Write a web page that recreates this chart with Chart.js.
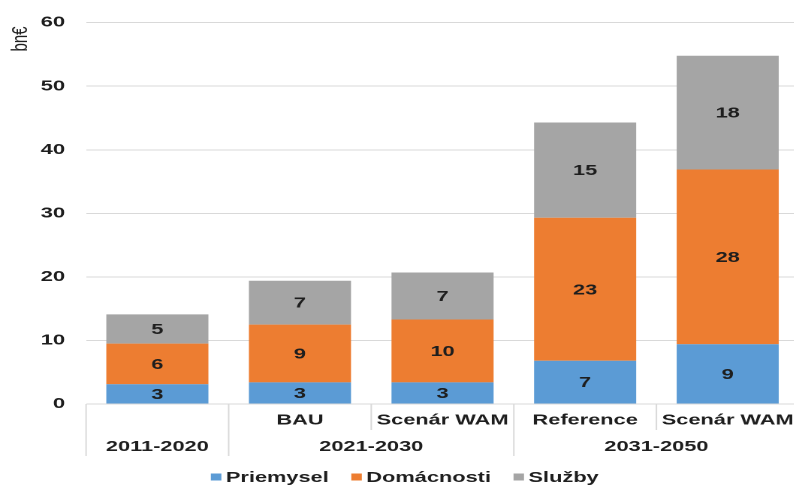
<!DOCTYPE html>
<html>
<head>
<meta charset="utf-8">
<script src="https://cdn.jsdelivr.net/npm/chart.js@4.4.1/dist/chart.umd.min.js"></script>
<style>
html, body { margin: 0; padding: 0; background: #fff; overflow: hidden; }
</style>
</head>
<body>
<!-- the reference is stretched horizontally ~1.5x and cut a little on the right,
     so the canvas is drawn narrow, stretched by CSS and slightly wider than the window -->
<canvas id="chart" width="532" height="485" style="display:block;width:798.6px;height:485px"></canvas>
<script>
const categories = ['', 'BAU', 'Scenár WAM', 'Reference', 'Scenár WAM'];
const groupLabels = ['2011-2020', '2021-2030', '2031-2050'];
const groupSizes = [1, 2, 2];
const seriesNames = ['Priemysel', 'Domácnosti', 'Služby'];
const priemysel = [3.1, 3.4, 3.4, 6.8, 9.4];
const domacnosti = [6.4, 9.1, 9.9, 22.5, 27.5];
const sluzby = [4.6, 6.9, 7.4, 15.0, 17.9];
const yTicks = [0, 10, 20, 30, 40, 50, 60];
const colors = ['#5B9BD5', '#ED7D31', '#A5A5A5'];

const FAMILY = '"Liberation Sans", Arial, sans-serif';
const FONT = 'bold 14.5px ' + FAMILY;
const TEXT = '#1e1e1e';
const LINE = '#D9D9D9';

const decor = {
  id: 'decor',
  afterDatasetsDraw(chart) {
    const { ctx, chartArea, scales: { x } } = chart;
    ctx.save();

    // value labels in the middle of each segment
    ctx.font = FONT;
    ctx.fillStyle = TEXT;
    ctx.textAlign = 'center';
    ctx.textBaseline = 'middle';
    chart.data.datasets.forEach((ds, i) => {
      chart.getDatasetMeta(i).data.forEach((bar, j) => {
        ctx.fillText(String(Math.round(ds.data[j])), bar.x, (bar.y + bar.base) / 2 + 1);
      });
    });

    // category separators, long ones between groups
    const half = (x.getPixelForValue(1) - x.getPixelForValue(0)) / 2;
    const starts = [0];
    groupSizes.forEach(n => starts.push(starts[starts.length - 1] + n));
    ctx.strokeStyle = LINE;
    ctx.lineWidth = 1;
    for (let i = 0; i <= categories.length; i++) {
      const px = i < categories.length ? x.getPixelForValue(i) - half : x.getPixelForValue(i - 1) + half;
      const full = starts.includes(i);
      ctx.beginPath();
      ctx.moveTo(px, chartArea.bottom);
      ctx.lineTo(px, full ? 456 : 430);
      ctx.stroke();
    }

    // group labels
    groupLabels.forEach((g, k) => {
      const a = x.getPixelForValue(starts[k]) - half;
      const b = x.getPixelForValue(starts[k + 1] - 1) + half;
      ctx.fillText(g, (a + b) / 2, 447);
    });

    // unit label
    ctx.save();
    ctx.translate(13.7, 39);
    ctx.rotate(-Math.PI / 2);
    ctx.font = '15px ' + FAMILY;
    ctx.fillText('bn€', 0, 0);
    ctx.restore();

    // legend
    const box = 7, gap = 3, itemGap = 15;
    const widths = seriesNames.map(n => box + gap + ctx.measureText(n).width);
    const total = widths.reduce((s, w) => s + w, 0) + itemGap * (widths.length - 1);
    let lx = 269.5 - total / 2;
    const ly = 477;
    ctx.textAlign = 'left';
    seriesNames.forEach((n, i) => {
      ctx.fillStyle = colors[i];
      ctx.fillRect(lx, ly - 3.5, box, box);
      ctx.fillStyle = TEXT;
      ctx.fillText(n, lx + box + gap, ly + 1);
      lx += widths[i] + itemGap;
    });

    ctx.restore();
  }
};

new Chart(document.getElementById('chart'), {
  type: 'bar',
  data: {
    labels: categories,
    datasets: [
      { label: seriesNames[0], data: priemysel, backgroundColor: colors[0] },
      { label: seriesNames[1], data: domacnosti, backgroundColor: colors[1] },
      { label: seriesNames[2], data: sluzby, backgroundColor: colors[2] }
    ]
  },
  options: {
    responsive: false,
    devicePixelRatio: 2,
    animation: false,
    layout: { padding: { top: 20, right: 0, bottom: 0, left: 0 } },
    datasets: { bar: { barPercentage: 0.716, categoryPercentage: 1 } },
    plugins: { legend: { display: false }, tooltip: { enabled: false } },
    scales: {
      x: {
        stacked: true,
        grid: { display: false, drawTicks: false },
        border: { display: false },
        ticks: { color: TEXT, font: { family: FAMILY, size: 14.5, weight: 'bold' }, padding: 8, maxRotation: 0, autoSkip: false },
        afterFit: s => { s.height = 81; s.paddingLeft = 0; s.paddingRight = 0; }
      },
      y: {
        stacked: true,
        min: 0,
        max: 60,
        afterBuildTicks: s => { s.ticks = yTicks.map(v => ({ value: v })); },
        ticks: { color: TEXT, font: { family: FAMILY, size: 14.5, weight: 'bold' }, padding: 14 },
        grid: { color: LINE, drawTicks: false },
        border: { display: false },
        afterFit: s => { s.width = 57.3; }
      }
    }
  },
  plugins: [decor]
});
</script>
</body>
</html>
